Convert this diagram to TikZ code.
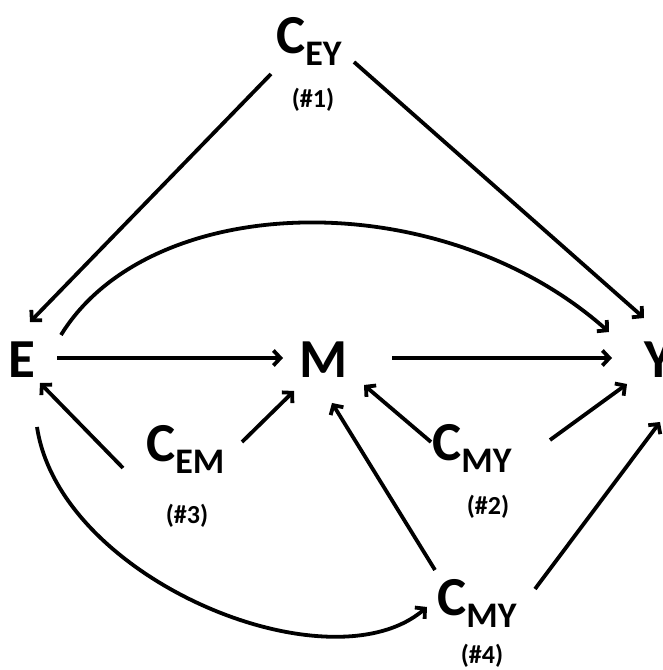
\documentclass[tikz,border=0pt]{standalone}
\usepackage{fontspec}
\setmainfont{Carlito}
\usetikzlibrary{arrows.meta}
\newcommand{\cvar}[1]{C\raisebox{-12pt}{\fontsize{36}{36}\selectfont #1}}

\begin{document}
\begin{tikzpicture}[x=1pt,y=1pt,
  var/.style={font=\fontsize{55}{55}\selectfont\bfseries,inner sep=0pt,anchor=base},
  conf/.style={font=\fontsize{55}{55}\selectfont\bfseries,inner sep=0pt,anchor=base west},
  tag/.style={font=\fontsize{26}{26}\selectfont\bfseries,inner sep=0pt},
  arr/.style={line width=3.8pt,-{Straight Barb[length=7pt,width=15pt]}}]
\useasboundingbox (0,0) rectangle (663,670);
\fill[white] (0,0) rectangle (663,670);
\node[var] (e) at (22,292) {E};
\node[var] (m) at (324,292) {M};
\node[var] (y) at (659,292) {Y};
\node[conf] (cey) at (276,616) {\cvar{EY}};
\node[conf] (cem) at (146,208) {\cvar{EM}};
\node[conf] (cmy) at (432,209) {\cvar{MY}};
\node[conf] (cmyb) at (437,54) {\cvar{MY}};
\node[tag] (n1) at (313,570) {(\#1)};
\node[tag] (n2) at (488,163) {(\#2)};
\node[tag] (n3) at (187,154) {(\#3)};
\node[tag] (n4) at (482,14) {(\#4)};
\draw[arr] ([shift={(-5,-20)}]cey.base west) -- ([shift={(8,56)}]e.base);
\draw[arr] ([shift={(78,-8)}]cey.base west) -- ([shift={(-15,60)}]y.base);
\draw[arr] ([shift={(39,43)}]e.base) .. controls +(89,145) and +(-169,150) .. ([shift={(-50,46)}]y.base);
\draw[arr] ([shift={(35,20)}]e.base) -- ([shift={(-41,20)}]m.base);
\draw[arr] ([shift={(68,20)}]m.base) -- ([shift={(-47,20)}]y.base);
\draw[arr] ([shift={(-23,-6)}]cem.base west) -- ([shift={(18,-5)}]e.base);
\draw[arr] ([shift={(96,20)}]cem.base west) -- ([shift={(-30,-13)}]m.base);
\draw[arr] ([shift={(-1,19)}]cmy.base west) -- ([shift={(40,-7)}]m.base);
\draw[arr] ([shift={(118,21)}]cmy.base west) -- ([shift={(-32,-6)}]y.base);
\draw[arr] ([shift={(-2,46)}]cmyb.base west) -- ([shift={(8,-25)}]m.base);
\draw[arr] ([shift={(98,27)}]cmyb.base west) -- ([shift={(1,-44)}]y.base);
\draw[arr] ([shift={(15,-49)}]e.base) .. controls +(23,-153) and +(-97,-83) .. ([shift={(-10,9)}]cmyb.base west);
\end{tikzpicture}
\end{document}
